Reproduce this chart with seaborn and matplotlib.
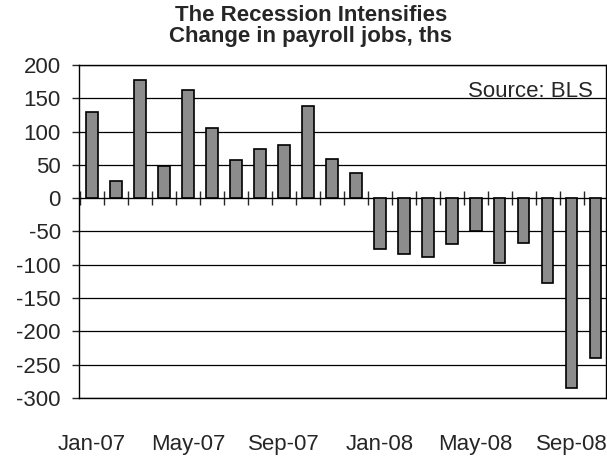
import matplotlib
matplotlib.use("Agg")
import matplotlib.pyplot as plt
import seaborn as sns
import pandas as pd

# monthly change in payroll jobs, thousands
months = ["Jan-07", "Feb-07", "Mar-07", "Apr-07", "May-07", "Jun-07",
          "Jul-07", "Aug-07", "Sep-07", "Oct-07", "Nov-07", "Dec-07",
          "Jan-08", "Feb-08", "Mar-08", "Apr-08", "May-08", "Jun-08",
          "Jul-08", "Aug-08", "Sep-08", "Oct-08"]
jobs_2007 = [130, 26, 177, 48, 162, 105, 57, 74, 80, 138, 59, 38]
jobs_2008 = [-77, -84, -89, -69, -49, -97, -68, -128, -285, -240]
tick_labels = ["Jan-07", "May-07", "Sep-07", "Jan-08", "May-08", "Sep-08"]
y_ticks = [200, 150, 100, 50, 0, -50, -100, -150, -200, -250, -300]

df = pd.DataFrame({"month": months, "change": jobs_2007 + jobs_2008})

sns.set_style("white")
plt.rcParams["font.family"] = ["Liberation Sans", "DejaVu Sans"]

fig = plt.figure(figsize=(6.07, 4.57), dpi=100)
ax = fig.add_axes([0.130, 0.129, 0.868, 0.729])

sns.barplot(data=df, x="month", y="change", order=months, color="#8c8c8c",
            saturation=1, width=0.48, edgecolor="black", linewidth=1.2, ax=ax)

ax.set_ylim(-300, 200)
ax.set_xlim(-0.54, 21.42)
ax.set_yticks(y_ticks)
ax.set_yticklabels([str(v) for v in y_ticks])
ax.yaxis.grid(True, color="black", linewidth=0.9)
ax.set_axisbelow(True)

# labels every 4 months along the bottom
ax.set_xticks([months.index(m) for m in tick_labels])
ax.set_xticklabels(tick_labels)
ax.tick_params(axis="x", length=0, pad=26, labelsize=16)
ax.tick_params(axis="y", left=True, direction="out", length=5, width=1,
               pad=8, labelsize=16)
ax.set_xlabel("")
ax.set_ylabel("")
for s in ax.spines.values():
    s.set_color("black")
    s.set_linewidth(1)

# zero line with month dividers
zero = ax.secondary_xaxis(0.6)
dividers = [i - 0.5 for i in range(len(months))]
zero.set_xticks(dividers, labels=[""] * len(dividers))
zero.tick_params(direction="inout", length=10, width=1,
                 labelbottom=False, labeltop=False)
zero.spines["bottom"].set_linewidth(2)
zero.spines["bottom"].set_color("black")

ax.text(0.976, 0.92, "Source: BLS", transform=ax.transAxes, ha="right",
        va="center", fontsize=16)

fig.text(0.512, 0.99, "The Recession Intensifies\nChange in payroll jobs, ths",
         ha="center", va="top", fontsize=16, fontweight="bold", linespacing=1.0)

fig.savefig("out.png", dpi=100)
